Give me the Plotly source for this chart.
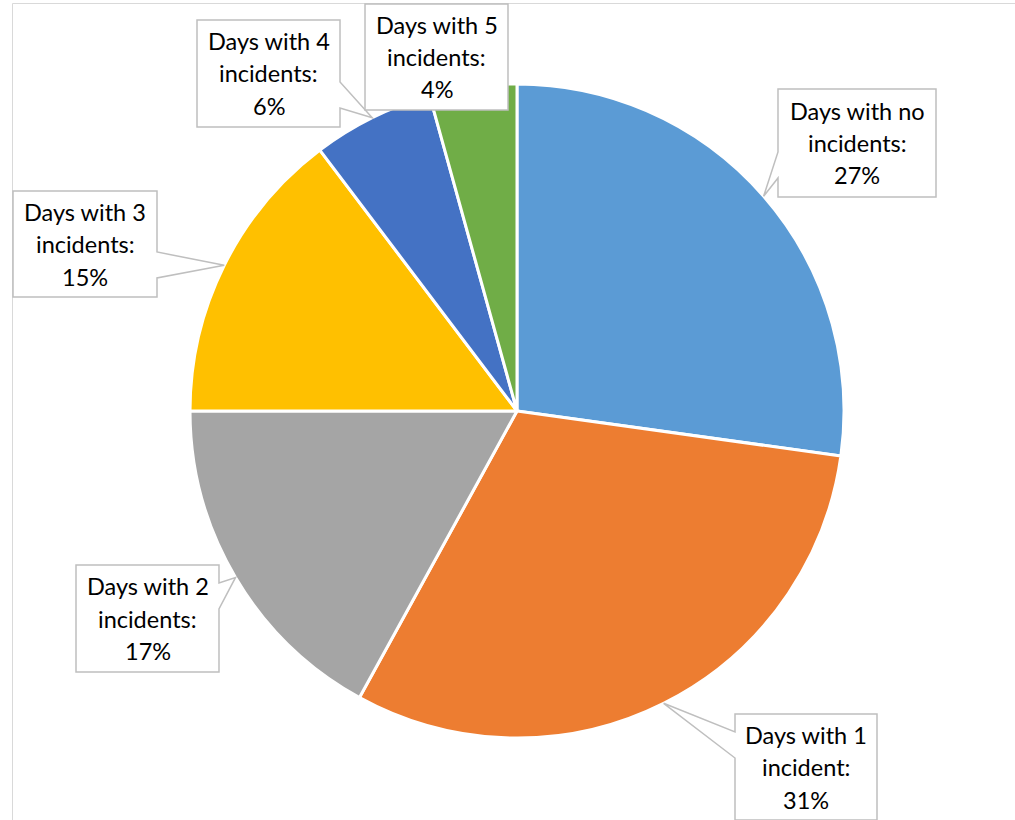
import math
import plotly.graph_objects as go

# ---- data ----
categories = ["Days with no incidents", "Days with 1 incident", "Days with 2 incidents",
              "Days with 3 incidents", "Days with 4 incidents", "Days with 5 incidents"]
values = [27.2, 30.8, 17.0, 14.7, 6.0, 4.3]
colors = ["#5B9BD5", "#ED7D31", "#A5A5A5", "#FFC000", "#4472C4", "#70AD47"]

# ---- layout constants (pixels) ----
W, H = 1015, 820
CX, CY, R = 517, 411, 327
# label boxes: x0, y0, x1, y1
boxes = [
    (778, 89, 936, 197),
    (735, 714, 877, 820),
    (76, 565, 219, 672),
    (13, 191, 157, 297),
    (197, 20, 340, 127),
    (365, 4, 508, 110),
]
FONT = "Lato"
FS = 23.5
LINE_H = 32.5


def px(x):
    return x / W


def py(y):
    return 1 - y / H


fig = go.Figure(go.Pie(
    labels=categories, values=values, sort=False, direction="clockwise", rotation=0,
    marker=dict(colors=colors, line=dict(color="white", width=3)),
    textinfo="none", hoverinfo="label+percent", showlegend=False,
    domain=dict(x=[px(CX - R), px(CX + R)], y=[py(CY + R), py(CY - R)]),
))

shapes = []
annotations = []
# chart frame
shapes.append(dict(type="rect", xref="paper", yref="paper",
                   x0=px(12.5), y0=py(3.5), x1=px(W + 10), y1=py(H + 10),
                   line=dict(color="#D9D9D9", width=1), fillcolor="rgba(0,0,0,0)", layer="below"))

total = sum(values)
cum = 0.0
for cat, v, (x0, y0, x1, y1) in zip(categories, values, boxes):
    theta = 2 * math.pi * (cum + v / 2) / total
    cum += v
    tx = CX + R * math.sin(theta)
    ty = CY - R * math.cos(theta)
    pts = [(x0, y0), (x1, y0), (x1, y1), (x0, y1)]
    inside = x0 <= tx <= x1 and y0 <= ty <= y1
    if not inside:
        half = 13
        bc = min(max(ty, y0 + 18 + half), y1 - 19 - half)
        if tx > x1:
            pts = [(x0, y0), (x1, y0), (x1, bc - half), (tx, ty), (x1, bc + half), (x1, y1), (x0, y1)]
        elif tx < x0:
            pts = [(x0, y0), (x1, y0), (x1, y1), (x0, y1), (x0, bc + half), (tx, ty), (x0, bc - half)]
    path = "M " + " L ".join(f"{px(a):.5f},{py(b):.5f}" for a, b in pts) + " Z"
    shapes.append(dict(type="path", xref="paper", yref="paper", path=path,
                       line=dict(color="#BFBFBF", width=1.5), fillcolor="white", layer="above"))
    words = cat.split()
    lines = [" ".join(words[:3]), words[3] + ":", f"{round(100 * v / total)}%"]
    cy = (y0 + y1) / 2
    for i, t in enumerate(lines):
        annotations.append(dict(x=px((x0 + x1) / 2), y=py(cy + (i - 1) * LINE_H),
                                xref="paper", yref="paper", text=t, showarrow=False,
                                xanchor="center", yanchor="middle",
                                font=dict(family=FONT, size=FS, color="#000000")))

fig.update_layout(width=W, height=H, margin=dict(l=0, r=0, t=0, b=0),
                  paper_bgcolor="white", plot_bgcolor="white",
                  shapes=shapes, annotations=annotations)
fig.write_html("out.html")
